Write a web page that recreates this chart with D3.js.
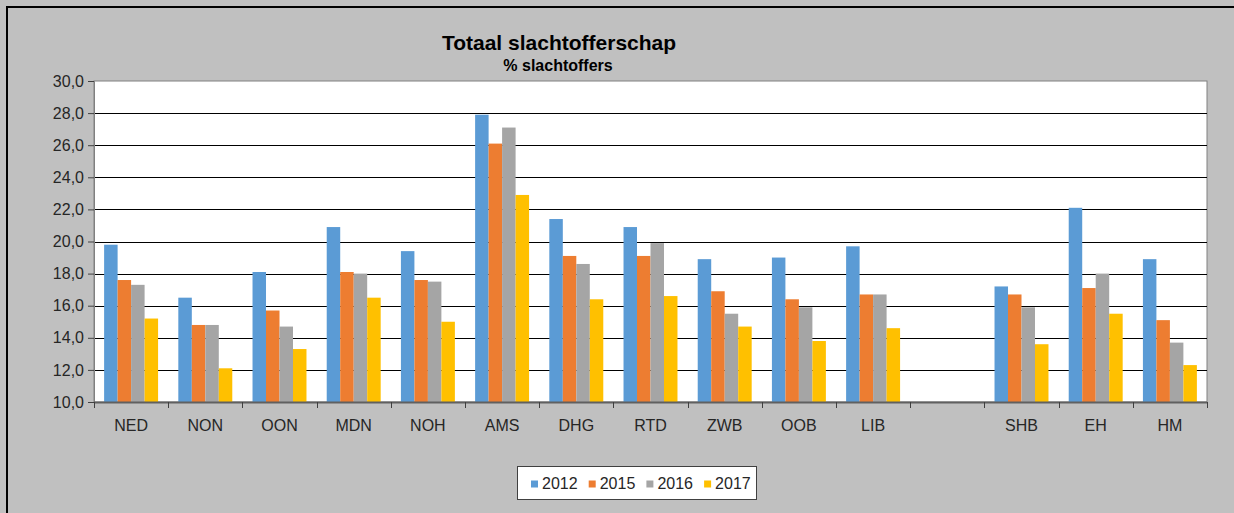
<!DOCTYPE html>
<html>
<head>
<meta charset="utf-8">
<script src="https://cdn.jsdelivr.net/npm/d3@7"></script>
<style>
  html, body { margin: 0; background: #c0c0c0; overflow: hidden; }
  svg { display: block; font-family: "Liberation Sans", Arial, sans-serif; }
</style>
</head>
<body>
<svg id="chart" width="1234" height="513"></svg>
<script>
// regions, blank slot between LIB and SHB
const categories = ['NED', 'NON', 'OON', 'MDN', 'NOH', 'AMS', 'DHG', 'RTD', 'ZWB', 'OOB', 'LIB', '', 'SHB', 'EH', 'HM'];
const years = ['2012', '2015', '2016', '2017'];
const v2012 = [19.8, 16.5, 18.1, 20.9, 19.4, 27.9, 21.4, 20.9, 18.9, 19.0, 19.7, null, 17.2, 22.1, 18.9];
const v2015 = [17.6, 14.8, 15.7, 18.1, 17.6, 26.1, 19.1, 19.1, 16.9, 16.4, 16.7, null, 16.7, 17.1, 15.1];
const v2016 = [17.3, 14.8, 14.7, 18.0, 17.5, 27.1, 18.6, 19.9, 15.5, 15.9, 16.7, null, 15.9, 18.0, 13.7];
const v2017 = [15.2, 12.1, 13.3, 16.5, 15.0, 22.9, 16.4, 16.6, 14.7, 13.8, 14.6, null, 13.6, 15.5, 12.3];
const yTicks = [10, 12, 14, 16, 18, 20, 22, 24, 26, 28, 30];

const series = [v2012, v2015, v2016, v2017];
const colors = d3.scaleOrdinal().domain(years).range(['#5b9bd5', '#ed7d31', '#a5a5a5', '#ffc000']);

const svg = d3.select('#chart');
const margin = { top: 81, left: 94, right: 27, bottom: 111 };
const width = 1234 - margin.left - margin.right;
const height = 513 - margin.top - margin.bottom;

/* ---------- outer frame (only left and top edges are in view) ---------- */
svg.append('line')
  .attr('x1', 7).attr('x2', 7).attr('y1', 6).attr('y2', 513)
  .attr('stroke', '#000').attr('stroke-width', 2);
svg.append('line')
  .attr('x1', 6).attr('x2', 1234).attr('y1', 7).attr('y2', 7)
  .attr('stroke', '#000').attr('stroke-width', 2);

/* ---------- titles ---------- */
svg.append('text')
  .attr('x', 559).attr('y', 50)
  .attr('text-anchor', 'middle')
  .attr('font-weight', 'bold')
  .style('font-size', '21px')
  .text('Totaal slachtofferschap');

svg.append('text')
  .attr('x', 558).attr('y', 71)
  .attr('text-anchor', 'middle')
  .attr('font-weight', 'bold')
  .style('font-size', '16px')
  .text('% slachtoffers');

const g = svg.append('g').attr('transform', 'translate(' + margin.left + ',' + margin.top + ')');

const x0 = d3.scaleBand().domain(categories).range([0, width]).paddingInner(0).paddingOuter(0);
const x1 = d3.scaleBand().domain(years).range([0, x0.bandwidth()]).paddingInner(0).paddingOuter(0.75);
const y = d3.scaleLinear().domain([10, 30]).range([height, 0]);

/* ---------- plot area ---------- */
g.append('rect')
  .attr('width', width).attr('height', height)
  .attr('fill', '#fff')
  .attr('stroke', '#808080').attr('stroke-width', 1);

// gridlines
g.append('g')
  .selectAll('line')
  .data(yTicks.filter(d => d > 10 && d < 30))
  .enter().append('line')
  .attr('x1', 0).attr('x2', width)
  .attr('y1', d => Math.round(y(d)) + 0.5)
  .attr('y2', d => Math.round(y(d)) + 0.5)
  .attr('stroke', '#000').attr('stroke-width', 1);

/* ---------- bars ---------- */
const groups = g.append('g').selectAll('g')
  .data(categories)
  .enter().append('g')
  .attr('transform', d => 'translate(' + x0(d) + ',0)');

groups.selectAll('rect')
  .data((c, ci) => years.map((yr, si) => ({ year: yr, value: series[si][ci] })).filter(d => d.value != null))
  .enter().append('rect')
  .attr('x', d => x1(d.year))
  .attr('width', x1.bandwidth())
  .attr('y', d => y(d.value))
  .attr('height', d => y(10) - y(d.value))
  .attr('fill', d => colors(d.year));

/* ---------- axes ---------- */
const yAxis = g.append('g')
  .call(d3.axisLeft(y).tickValues(yTicks).tickSize(6).tickPadding(4)
    .tickFormat(d => d.toFixed(1).replace('.', ',')));
yAxis.select('.domain').attr('stroke', '#808080');
yAxis.selectAll('.tick line').attr('stroke', '#404040');
yAxis.selectAll('text').attr('fill', '#262626').style('font-size', '16px').style('font-family', 'Liberation Sans, Arial, sans-serif');

const xAxis = g.append('g')
  .attr('transform', 'translate(0,' + height + ')');
xAxis.append('line')
  .attr('x1', 0).attr('x2', width)
  .attr('y1', 0.5).attr('y2', 0.5)
  .attr('stroke', '#606060').attr('stroke-width', 2);
xAxis.selectAll('.xtick')
  .data(d3.range(categories.length + 1))
  .enter().append('line')
  .attr('x1', i => Math.round(i * x0.step()) + 0.5)
  .attr('x2', i => Math.round(i * x0.step()) + 0.5)
  .attr('y1', 0).attr('y2', 6)
  .attr('stroke', '#404040');
xAxis.selectAll('.xlabel')
  .data(categories)
  .enter().append('text')
  .attr('x', d => x0(d) + x0.bandwidth() / 2)
  .attr('y', 29)
  .attr('text-anchor', 'middle')
  .attr('fill', '#262626')
  .style('font-size', '16px')
  .text(d => d);

/* ---------- legend ---------- */
const legend = svg.append('g').attr('transform', 'translate(517.5,466.5)');
legend.append('rect')
  .attr('width', 239).attr('height', 33)
  .attr('fill', '#fff')
  .attr('stroke', '#404040').attr('stroke-width', 1);

const item = legend.selectAll('.item')
  .data(years)
  .enter().append('g')
  .attr('transform', (d, i) => 'translate(' + (13.5 + i * 57.7) + ',0)');
item.append('rect')
  .attr('y', 14).attr('width', 7).attr('height', 7)
  .attr('fill', d => colors(d));
item.append('text')
  .attr('x', 11).attr('y', 22)
  .attr('fill', '#262626')
  .style('font-size', '16px')
  .text(d => d);
</script>
</body>
</html>
